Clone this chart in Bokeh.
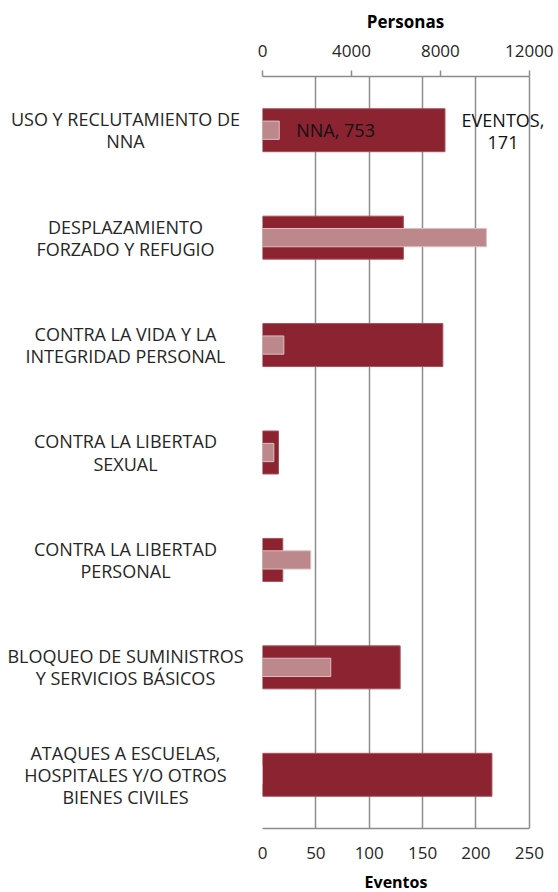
from bokeh.plotting import figure
from bokeh.layouts import row, column
from bokeh.models import Range1d, LinearAxis, FixedTicker, Label
from bokeh.core.properties import value
from bokeh.embed import file_html
from bokeh.resources import INLINE

categorias = [
    "USO Y RECLUTAMIENTO DE\nNNA",
    "DESPLAZAMIENTO\nFORZADO Y REFUGIO",
    "CONTRA LA VIDA Y LA\nINTEGRIDAD PERSONAL",
    "CONTRA LA LIBERTAD\nSEXUAL",
    "CONTRA LA LIBERTAD\nPERSONAL",
    "BLOQUEO DE SUMINISTROS\nY SERVICIOS BÁSICOS",
    "ATAQUES A ESCUELAS,\nHOSPITALES Y/O OTROS\nBIENES CIVILES",
]
eventos = [171, 132, 169, 15, 19, 129, 215]
personas = [753, 10070, 960, 510, 2170, 3070, 0]
eventos_ticks = [0, 50, 100, 150, 200, 250]
personas_ticks = [0, 4000, 8000, 12000]
titulo_abajo = "Eventos"
titulo_arriba = "Personas"

DARK = "#8B2331"
LIGHT = "#BC888B"
GRID = "#8C8C8C"
TXT = "#262626"
FONT = "Open Sans"

ypos = [i + 0.5 for i in range(len(categorias))]

# extend the frame a bit to the right so the data label is not clipped
ev_max = eventos_ticks[-1]
pe_max = personas_ticks[-1]
ext = 1.072
TOP, BOTTOM = 76, 40
H = 76 + 752 + BOTTOM
STRIP = 892 - H

yr = Range1d(len(categorias), 0)

left = figure(width=250, height=H, x_range=Range1d(0, 250), y_range=yr,
              output_backend="svg", toolbar_location=None,
              x_axis_location=None, y_axis_location=None,
              min_border_left=0, min_border_right=0, min_border_top=TOP, min_border_bottom=BOTTOM)
left.outline_line_color = None
left.xgrid.grid_line_color = None
left.ygrid.grid_line_color = None
left.text(x=[125] * len(categorias), y=ypos, text=categorias, text_align="center",
          text_baseline="middle", text_font=value(FONT), text_font_size="18px",
          text_color=TXT, text_line_height=0.92)

p = figure(width=308, height=H, x_range=Range1d(0, ev_max * ext), y_range=yr,
           output_backend="svg", toolbar_location=None, y_axis_location=None,
           min_border_left=12, min_border_right=10, min_border_top=TOP, min_border_bottom=BOTTOM)
p.outline_line_color = None
p.extra_x_ranges = {"personas": Range1d(0, pe_max * ext)}

p.hbar(y=ypos, right=eventos, left=0, height=0.4, fill_color=DARK, line_color="#A9505A", line_width=1)
p.hbar(y=ypos, right=personas, left=0, height=0.17, fill_color=LIGHT, line_color="#DDBFC0",
       line_width=1, x_range_name="personas")

# bottom axis (its title is drawn in the strip below)
ax = p.xaxis[0]
ax.ticker = FixedTicker(ticks=eventos_ticks)
ax.bounds = (eventos_ticks[0], eventos_ticks[-1])
ax.major_tick_out = 0
ax.major_tick_in = 0
ax.minor_tick_out = 0
ax.minor_tick_in = 0
ax.axis_line_color = GRID
ax.axis_line_width = 1.5
ax.major_label_text_font = FONT
ax.major_label_text_font_size = "17px"
ax.major_label_text_color = TXT
ax.major_label_standoff = 18

top = LinearAxis(x_range_name="personas", ticker=FixedTicker(ticks=personas_ticks))
top.bounds = (personas_ticks[0], personas_ticks[-1])
top.axis_label = titulo_arriba
top.major_tick_out = 6
top.major_tick_in = 0
top.minor_tick_out = 0
top.minor_tick_in = 0
top.axis_line_color = GRID
top.axis_line_width = 1.5
top.major_tick_line_color = GRID
top.major_tick_line_width = 1.5
top.major_label_text_font = FONT
top.major_label_text_font_size = "17px"
top.major_label_text_color = TXT
top.major_label_standoff = 14
top.axis_label_text_font = FONT
top.axis_label_text_font_style = "bold"
top.axis_label_text_font_size = "17px"
top.axis_label_text_color = "#000000"
top.axis_label_standoff = 9
p.add_layout(top, "above")

p.xgrid.ticker = FixedTicker(ticks=eventos_ticks)
p.xgrid.grid_line_color = GRID
p.xgrid.grid_line_width = 1.5
p.ygrid.grid_line_color = None

p.add_layout(Label(x=personas[0], y=ypos[0], x_range_name="personas", x_offset=17,
                   text=f"NNA, {personas[0]}", text_align="left", text_baseline="middle",
                   text_font=FONT, text_font_size="18px", text_color="#111111"))
p.add_layout(Label(x=eventos[0], y=ypos[0], x_offset=58, y_offset=-1,
                   text=f"EVENTOS,\n{eventos[0]}", text_align="center", text_baseline="middle",
                   text_font=FONT, text_font_size="18px", text_color="#111111",
                   text_line_height=0.9))

# strip below holding the bottom axis title
strip = figure(width=558, height=STRIP, x_range=Range1d(0, 558), y_range=Range1d(0, STRIP),
               output_backend="svg", toolbar_location=None,
               x_axis_location=None, y_axis_location=None,
               min_border_left=0, min_border_right=0, min_border_top=0, min_border_bottom=0)
strip.outline_line_color = None
strip.xgrid.grid_line_color = None
strip.ygrid.grid_line_color = None
strip.text(x=[395.5], y=[STRIP - 13], text=[titulo_abajo], text_align="center",
           text_baseline="middle", text_font=value(FONT), text_font_size="16px",
           text_font_style="bold", text_color="#000000")

layout = column(row(left, p), strip)
open("out.html", "w").write(file_html(layout, INLINE))
